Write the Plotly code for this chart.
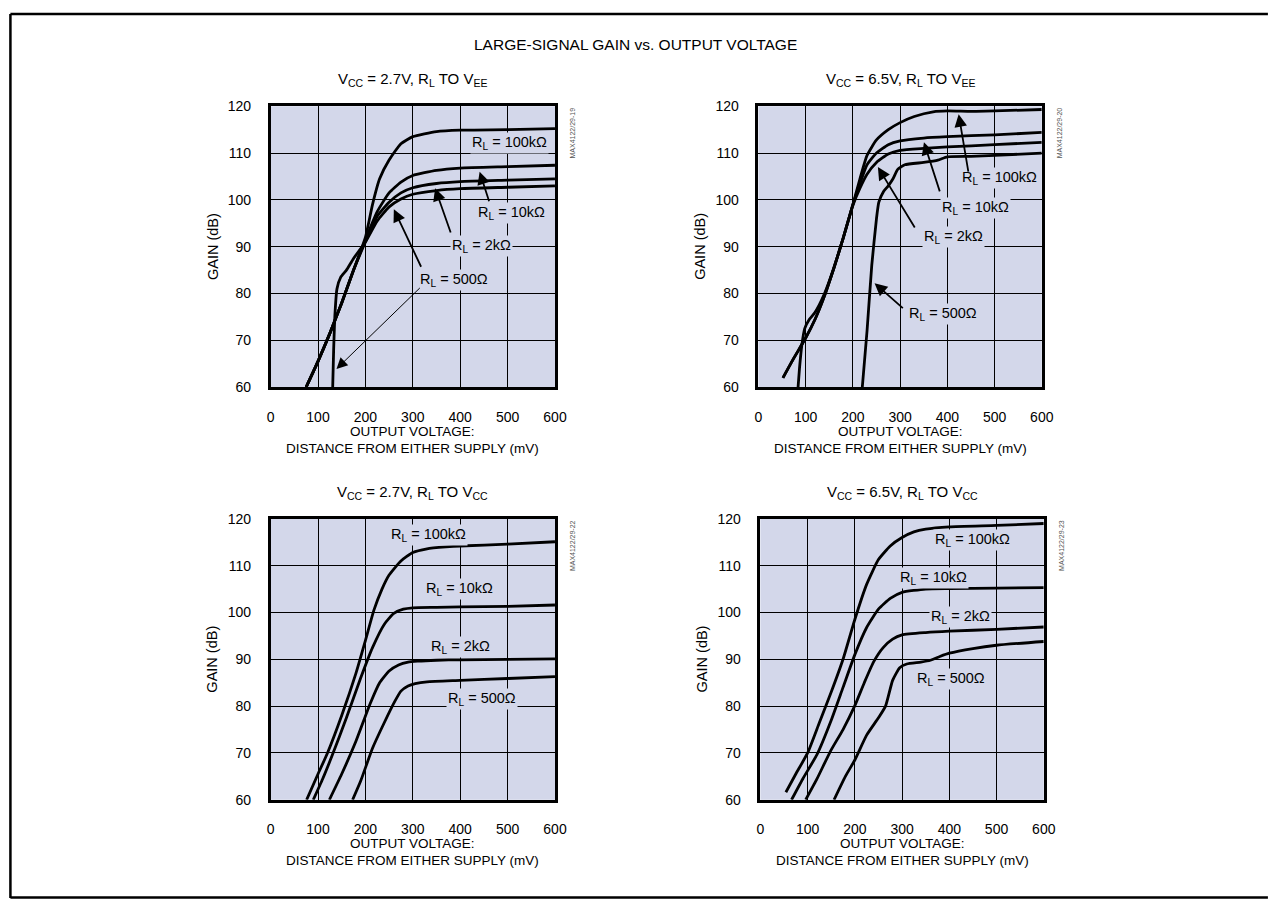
import plotly.graph_objects as go

# ---------------- data ----------------
TITLE = "LARGE-SIGNAL GAIN vs. OUTPUT VOLTAGE"
SUBTITLES = [
    "V<sub>CC</sub> = 2.7V, R<sub>L</sub> TO V<sub>EE</sub>",
    "V<sub>CC</sub> = 6.5V, R<sub>L</sub> TO V<sub>EE</sub>",
    "V<sub>CC</sub> = 2.7V, R<sub>L</sub> TO V<sub>CC</sub>",
    "V<sub>CC</sub> = 6.5V, R<sub>L</sub> TO V<sub>CC</sub>",
]
CODES = ["MAX4122/29-19", "MAX4122/29-20", "MAX4122/29-22", "MAX4122/29-23"]
LOADS = ["100kΩ", "10kΩ", "2kΩ", "500Ω"]
X_TICKS = [0, 100, 200, 300, 400, 500, 600]
Y_TICKS = [60, 70, 80, 90, 100, 110, 120]
Y_TITLE = "GAIN (dB)"
X_TITLE_1 = "OUTPUT VOLTAGE:"
X_TITLE_2 = "DISTANCE FROM EITHER SUPPLY (mV)"

# Plot 1: VCC = 2.7V, RL to VEE
p1_100k_x = [75, 100, 125, 150, 175, 200, 215, 230, 250, 275, 300, 350, 400, 500, 600]
p1_100k_y = [60, 65.5, 71.5, 78, 85, 92, 99, 104.5, 108.5, 112, 113.5, 114.6, 114.9, 115, 115.2]
p1_10k_x = [75, 100, 125, 150, 175, 200, 225, 250, 275, 300, 350, 400, 500, 600]
p1_10k_y = [60, 65.5, 71.5, 78, 85, 91.5, 97.5, 101.5, 103.8, 105.2, 106.3, 106.8, 107.1, 107.4]
p1_2k_x = [75, 100, 125, 150, 175, 200, 225, 250, 275, 300, 350, 400, 500, 600]
p1_2k_y = [60, 65.5, 71.5, 78, 85, 91, 96.5, 99.5, 101.5, 102.6, 103.5, 103.9, 104.2, 104.5]
p1_500_x = [131, 133, 136, 140, 148, 160, 175, 200, 225, 250, 275, 300, 350, 400, 500, 600]
p1_500_y = [60, 68, 76, 81, 83.5, 85, 87.5, 91, 95.5, 98.5, 100.2, 101.2, 102, 102.4, 102.7, 103]

# Plot 2: VCC = 6.5V, RL to VEE
p2_100k_x = [52, 75, 100, 120, 140, 160, 180, 200, 215, 230, 250, 275, 300, 330, 370, 400, 450, 500, 600]
p2_100k_y = [62, 66.2, 70.5, 74.5, 79.5, 85.5, 92, 99, 104.5, 109.5, 112.8, 115, 116.5, 117.8, 118.8, 119, 118.9, 119, 119.3]
p2_10k_x = [52, 75, 100, 120, 140, 160, 180, 200, 215, 230, 250, 275, 300, 350, 400, 500, 600]
p2_10k_y = [62, 66.2, 70.5, 74.5, 79.5, 85.5, 92, 99, 103.5, 107.5, 110, 111.8, 112.6, 113.2, 113.5, 113.9, 114.4]
p2_2k_x = [84, 87, 92, 98, 108, 120, 140, 160, 180, 200, 215, 230, 250, 275, 300, 350, 400, 500, 600]
p2_2k_y = [60, 64, 69, 72.5, 74.5, 76, 80, 85.5, 92, 98.8, 102.5, 105.5, 108, 109.8, 110.6, 111, 111.3, 111.8, 112.3]
p2_500_x = [220, 230, 240, 250, 255, 265, 275, 285, 295, 310, 350, 380, 400, 450, 500, 600]
p2_500_y = [60, 72, 86, 96, 99.5, 101.8, 103, 104.5, 106.5, 107.5, 108, 108.5, 109.2, 109.3, 109.5, 110]

# Plot 3: VCC = 2.7V, RL to VCC
p3_100k_x = [76, 100, 120, 150, 180, 200, 218, 235, 250, 275, 300, 330, 370, 400, 500, 600]
p3_100k_y = [60, 65.5, 70, 78, 87, 94, 100.5, 105, 108, 111, 112.8, 113.6, 114, 114.2, 114.6, 115.1]
p3_10k_x = [90, 110, 130, 160, 190, 215, 240, 260, 280, 300, 350, 400, 500, 600]
p3_10k_y = [60, 64.5, 69.5, 77.5, 86, 92.5, 97.5, 99.8, 100.7, 101, 101.1, 101.2, 101.3, 101.6]
p3_2k_x = [124, 150, 180, 210, 230, 250, 270, 290, 310, 350, 400, 500, 600]
p3_2k_y = [60, 65.5, 72.5, 80.5, 85, 87.5, 88.8, 89.4, 89.6, 89.8, 89.9, 90, 90.1]
p3_500_x = [173, 190, 215, 240, 262, 275, 290, 305, 330, 400, 500, 600]
p3_500_y = [60, 64, 71, 76.5, 81, 83.2, 84.3, 84.8, 85.2, 85.5, 85.9, 86.3]

# Plot 4: VCC = 6.5V, RL to VCC
p4_100k_x = [54, 75, 100, 125, 150, 175, 200, 225, 250, 275, 300, 325, 350, 400, 500, 600]
p4_100k_y = [61.6, 65.5, 70, 76.5, 83, 90, 98.5, 106, 111.3, 114.2, 116, 117.2, 117.8, 118.3, 118.6, 119]
p4_10k_x = [66, 90, 120, 150, 175, 200, 225, 250, 275, 300, 350, 400, 500, 600]
p4_10k_y = [60, 64.5, 69.7, 77, 84, 91, 96.8, 100.7, 103, 104.3, 105, 105.1, 105.2, 105.3]
p4_2k_x = [96, 120, 148, 175, 200, 220, 240, 260, 280, 300, 350, 400, 500, 600]
p4_2k_y = [60, 64.5, 70.3, 75, 80.1, 85, 89.5, 92.5, 94.3, 95.2, 95.7, 96, 96.4, 96.9]
p4_500_x = [156, 180, 200, 225, 250, 265, 280, 295, 310, 340, 360, 380, 400, 450, 500, 600]
p4_500_y = [60, 65, 68.5, 73.8, 77.5, 80, 85.5, 88.2, 89, 89.4, 89.8, 90.6, 91.3, 92.3, 93, 93.8]

PANELS = [
    [(p1_100k_x, p1_100k_y), (p1_10k_x, p1_10k_y), (p1_2k_x, p1_2k_y), (p1_500_x, p1_500_y)],
    [(p2_100k_x, p2_100k_y), (p2_10k_x, p2_10k_y), (p2_2k_x, p2_2k_y), (p2_500_x, p2_500_y)],
    [(p3_100k_x, p3_100k_y), (p3_10k_x, p3_10k_y), (p3_2k_x, p3_2k_y), (p3_500_x, p3_500_y)],
    [(p4_100k_x, p4_100k_y), (p4_10k_x, p4_10k_y), (p4_2k_x, p4_2k_y), (p4_500_x, p4_500_y)],
]

# ---------------- layout / style ----------------
W, H = 1273, 907
BG = "#d3d7ea"
FONT = "Arial, Liberation Sans, Helvetica, sans-serif"
# plot boxes in page pixels: (left, right, top, bottom)
BOXES = [(270, 558, 100, 386), (764, 1051, 100, 386), (270, 558, 520, 806), (766, 1053, 520, 806)]

# label positions (data coords) per panel, same order as LOADS
LABEL_POS = [
    [(504, 112.2), (508, 97.3), (446, 90.1), (387, 82.9)],
    [(511, 104.6), (460, 98.3), (413, 92.0), (391, 75.6)],
    [(333, 116.5), (399, 105.0), (401, 92.7), (447, 81.5)],
    [(449, 115.5), (367, 107.4), (424, 99.0), (403, 85.7)],
]
# arrows: (panel, head_x, head_y, tail_x, tail_y, width)
ARROWS = [
    (0, 441, 106.0, 462, 99.4, 1.8),
    (0, 347, 102.5, 381, 92.7, 1.8),
    (0, 260, 98.0, 319, 85.4, 1.8),
    (0, 139, 63.9, 318, 81.5, 1.0),
    (1, 424, 118.3, 445, 105.7, 1.8),
    (1, 350.5, 112.3, 385, 101.5, 1.8),
    (1, 253, 107.0, 333, 93.8, 1.8),
    (1, 246, 82.2, 309, 76.6, 1.8),
]


def px(x):
    return x / W


def py(y):
    return 1 - y / H


fig = go.Figure()
layout = dict(
    width=W, height=H, margin=dict(l=0, r=0, t=0, b=0), autosize=False,
    paper_bgcolor="white", plot_bgcolor=BG, showlegend=False,
    font=dict(family=FONT, color="black", size=14),
)
annotations = []
shapes = []

for i, (box, curves) in enumerate(zip(BOXES, PANELS)):
    n = i + 1
    xa = "xaxis" if n == 1 else f"xaxis{n}"
    ya = "yaxis" if n == 1 else f"yaxis{n}"
    xr = "x" if n == 1 else f"x{n}"
    yr = "y" if n == 1 else f"y{n}"
    l, r, t, b = box
    layout[xa] = dict(
        domain=[px(l), px(r)], anchor=yr, range=[0, 600], tickvals=X_TICKS,
        showgrid=True, gridcolor="black", gridwidth=1, zeroline=False,
        showline=True, linecolor="black", linewidth=2.5, mirror=True,
        ticks="outside", ticklen=15, tickcolor="rgba(0,0,0,0)",
        tickfont=dict(size=14, family=FONT), fixedrange=True,
    )
    layout[ya] = dict(
        domain=[py(b), py(t)], anchor=xr, range=[60, 120], tickvals=Y_TICKS,
        showgrid=True, gridcolor="black", gridwidth=1, zeroline=False,
        showline=True, linecolor="black", linewidth=2.5, mirror=True,
        ticks="outside", ticklen=14, tickcolor="rgba(0,0,0,0)",
        tickfont=dict(size=14, family=FONT), fixedrange=True,
    )
    for (cx, cy) in curves:
        fig.add_trace(go.Scatter(
            x=cx, y=cy, mode="lines", xaxis=xr, yaxis=yr, hoverinfo="skip",
            line=dict(color="black", width=2.8, shape="spline", smoothing=0.5),
        ))
    # load labels
    for load, (lx, ly) in zip(LOADS, LABEL_POS[i]):
        annotations.append(dict(
            x=lx, y=ly, xref=xr, yref=yr, text=f"R<sub>L</sub> = {load}",
            showarrow=False, bgcolor=BG, borderpad=1,
            font=dict(size=14.5, family=FONT),
        ))
    cx_mid = (l + r) / 2
    # subtitle
    annotations.append(dict(
        x=px(cx_mid), y=py(t - 27), xref="paper", yref="paper", text=SUBTITLES[i],
        showarrow=False, xanchor="center", yanchor="middle", font=dict(size=15, family=FONT),
    ))
    # y title
    annotations.append(dict(
        x=px(l - 59), y=py((t + b) / 2), xref="paper", yref="paper", text=Y_TITLE,
        textangle=-90, showarrow=False, xanchor="center", yanchor="middle",
        font=dict(size=14.5, family=FONT),
    ))
    # x title (two lines)
    annotations.append(dict(
        x=px(cx_mid), y=py(b + 45), xref="paper", yref="paper", text=X_TITLE_1,
        showarrow=False, xanchor="center", yanchor="middle", font=dict(size=13.5, family=FONT),
    ))
    annotations.append(dict(
        x=px(cx_mid), y=py(b + 62), xref="paper", yref="paper", text=X_TITLE_2,
        showarrow=False, xanchor="center", yanchor="middle", font=dict(size=13.5, family=FONT),
    ))
    # figure code
    annotations.append(dict(
        x=px(r + 18), y=py(t + 27), xref="paper", yref="paper", text=CODES[i],
        textangle=-90, showarrow=False, xanchor="center", yanchor="middle",
        font=dict(size=7, family=FONT, color="#555555"),
    ))

for (p, hx, hy, tx, ty, w) in ARROWS:
    xr = "x" if p == 0 else f"x{p + 1}"
    yr = "y" if p == 0 else f"y{p + 1}"
    annotations.append(dict(
        x=hx, y=hy, xref=xr, yref=yr, ax=tx, ay=ty, axref=xr, ayref=yr,
        text="", showarrow=True, arrowhead=2, arrowsize=1.4 if w > 1.2 else 2.2,
        arrowwidth=w, arrowcolor="black",
    ))

# main title
annotations.append(dict(
    x=px(640), y=py(37), xref="paper", yref="paper", text=TITLE, showarrow=False,
    xanchor="center", yanchor="middle", font=dict(size=15.5, family=FONT),
))

# outer frame (left, top, bottom edges; the right edge lies outside the picture)
for (x0, y0, x1, y1) in [(6.5, 6, 6.5, 906), (6.5, 6, 1280, 6), (6.5, 905.5, 1280, 905.5)]:
    shapes.append(dict(type="line", xref="paper", yref="paper",
                       x0=px(x0), y0=py(y0), x1=px(x1), y1=py(y1),
                       line=dict(color="black", width=2.5)))

layout["annotations"] = annotations
layout["shapes"] = shapes
fig.update_layout(**layout)

fig.write_html("out.html", config={"displayModeBar": False},
               post_script="document.body.style.margin='0';document.body.style.overflow='hidden';")
